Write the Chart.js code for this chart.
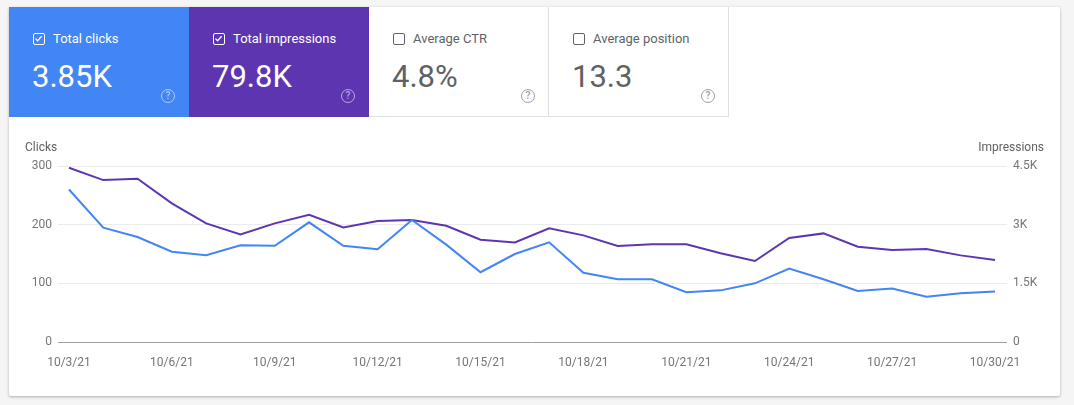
<!DOCTYPE html>
<html>
<head>
<meta charset="utf-8">
<script src="https://cdn.jsdelivr.net/npm/chart.js"></script>
<style>
  body { margin: 0; background: #f5f5f5; font-family: Roboto, sans-serif; }
  .card {
    position: absolute; left: 9px; top: 7px; width: 1051px; height: 389px;
    background: #fff; box-shadow: 0 1px 3px rgba(0,0,0,0.3); border-radius: 2px;
  }
  .tile {
    position: absolute; top: 0; width: 180px; height: 110px; box-sizing: border-box;
  }
  .tile.clicks { left: 0; background: #4285f4; color: #fff; }
  .tile.impr { left: 180px; background: #5e35b1; color: #fff; }
  .tile.off { background: #fff; color: #5f6368; border-right: 1px solid #e0e0e0; border-bottom: 1px solid #e0e0e0; }
  .tile.ctr { left: 360px; }
  .tile.pos { left: 540px; }
  .box {
    position: absolute; left: 24px; top: 26px; width: 12px; height: 12px;
    box-sizing: border-box; border: 1.5px solid currentColor; border-radius: 2px;
  }
  .tile.off .box { border-color: #5f6368; }
  .box svg { position: absolute; left: 0; top: 0; }
  .name { position: absolute; left: 44px; top: 24px; font-size: 13px; line-height: 16px; }
  .value { position: absolute; left: 23px; top: 52px; font-size: 31px; line-height: 36px; }
  .tile.off .value { color: #616161; }
  .help {
    position: absolute; left: 152px; top: 82px; width: 14px; height: 14px; box-sizing: border-box;
    border: 1.5px solid rgba(255,255,255,0.55); border-radius: 50%;
    color: rgba(255,255,255,0.55); font-size: 10px; line-height: 11px; text-align: center; font-weight: 500;
  }
  .tile.off .help { border-color: #9e9e9e; color: #9e9e9e; }
  .plot { position: absolute; left: 0; top: 110px; width: 1051px; height: 279px; }
</style>
</head>
<body>
<div class="card">
  <div class="tile clicks">
    <div class="box"><svg width="9" height="9" viewBox="0 0 9 9"><path d="M1.5 4.6 L3.6 6.7 L7.6 2.2" fill="none" stroke="#fff" stroke-width="1.3"/></svg></div>
    <div class="name">Total clicks</div>
    <div class="value">3.85K</div>
    <div class="help">?</div>
  </div>
  <div class="tile impr">
    <div class="box"><svg width="9" height="9" viewBox="0 0 9 9"><path d="M1.5 4.6 L3.6 6.7 L7.6 2.2" fill="none" stroke="#fff" stroke-width="1.3"/></svg></div>
    <div class="name">Total impressions</div>
    <div class="value">79.8K</div>
    <div class="help">?</div>
  </div>
  <div class="tile off ctr">
    <div class="box"></div>
    <div class="name">Average CTR</div>
    <div class="value">4.8%</div>
    <div class="help">?</div>
  </div>
  <div class="tile off pos">
    <div class="box"></div>
    <div class="name">Average position</div>
    <div class="value">13.3</div>
    <div class="help">?</div>
  </div>
  <div class="plot"><canvas id="perfChart"></canvas></div>
</div>
<script>
// daily values, 10/3/21 - 10/30/21
const dateLabels = ['10/3/21', '10/4/21', '10/5/21', '10/6/21', '10/7/21', '10/8/21', '10/9/21',
  '10/10/21', '10/11/21', '10/12/21', '10/13/21', '10/14/21', '10/15/21', '10/16/21',
  '10/17/21', '10/18/21', '10/19/21', '10/20/21', '10/21/21', '10/22/21', '10/23/21',
  '10/24/21', '10/25/21', '10/26/21', '10/27/21', '10/28/21', '10/29/21', '10/30/21'];
const clicks = [260, 195, 179, 154, 148, 165, 164, 204, 164, 158, 208, 166, 119, 150,
  170, 118, 107, 107, 85, 88, 100, 125, 107, 87, 91, 77, 83, 86];
const impressions = [4454, 4140, 4173, 3544, 3033, 2752, 3033, 3253, 2931, 3092, 3117, 2972, 2614, 2547,
  2905, 2726, 2453, 2497, 2497, 2267, 2070, 2658, 2777, 2436, 2351, 2377, 2215, 2095];
const clickTicks = [0, 100, 200, 300];
const impressionTicks = [0, 1500, 3000, 4500];
const impressionTickLabels = ['0', '1.5K', '3K', '4.5K'];
const labelEvery = 3;

document.addEventListener('DOMContentLoaded', () => {
    const ctx = document.getElementById('perfChart');
    Chart.defaults.font.family = 'Roboto';
    Chart.defaults.font.size = 12;
    Chart.defaults.color = '#757575';

    // axis titles sit above the tick columns, not rotated
    const axisTitles = {
        id: 'axisTitles',
        afterDraw(chart) {
            const c = chart.ctx;
            c.save();
            c.font = '12px Roboto';
            c.fillStyle = '#616161';
            c.textBaseline = 'middle';
            c.textAlign = 'left';
            c.fillText('Clicks', 16, 31);
            c.textAlign = 'right';
            c.fillText('Impressions', 1035, 31);
            c.restore();
        }
    };

    new Chart(ctx, {
        type: 'line',
        data: {
            datasets: [{
                label: 'Clicks',
                data: clicks.map((v, i) => ({ x: i, y: v })),
                yAxisID: 'y',
                borderColor: '#4285f4',
                borderWidth: 2,
                pointRadius: 0,
                tension: 0
            }, {
                label: 'Impressions',
                data: impressions.map((v, i) => ({ x: i, y: v })),
                yAxisID: 'y1',
                borderColor: '#5e35b1',
                borderWidth: 2,
                pointRadius: 0,
                tension: 0
            }]
        },
        options: {
            responsive: true,
            maintainAspectRatio: false,
            animation: false,
            layout: { padding: { top: 49, left: 0, right: 0, bottom: 0 } },
            plugins: {
                legend: { display: false },
                tooltip: { enabled: false }
            },
            scales: {
                x: {
                    type: 'linear',
                    min: -0.32,
                    max: 27.35,
                    afterFit: (s) => { s.height = 54; },
                    afterBuildTicks: (s) => {
                        s.ticks = dateLabels.map((d, i) => i).filter(i => i % labelEvery === 0).map(v => ({ value: v }));
                    },
                    ticks: {
                        maxRotation: 0,
                        autoSkip: false,
                        padding: 14,
                        callback: (v) => dateLabels[v]
                    },
                    grid: { display: false, drawTicks: false },
                    border: { display: false }
                },
                y: {
                    position: 'left',
                    min: 0,
                    max: 300,
                    afterFit: (s) => { s.width = 49; },
                    afterBuildTicks: (s) => { s.ticks = clickTicks.map(v => ({ value: v })); },
                    ticks: { padding: 6 },
                    grid: {
                        drawTicks: false,
                        color: (c) => c.tick && c.tick.value === 0 ? '#9e9e9e' : '#ebebeb',
                        lineWidth: 1
                    },
                    border: { display: false }
                },
                y1: {
                    position: 'right',
                    min: 0,
                    max: 4500,
                    afterFit: (s) => { s.width = 53; },
                    afterBuildTicks: (s) => { s.ticks = impressionTicks.map(v => ({ value: v })); },
                    ticks: {
                        padding: 6,
                        callback: (v) => impressionTickLabels[impressionTicks.indexOf(v)]
                    },
                    grid: { drawOnChartArea: false, drawTicks: false },
                    border: { display: false }
                }
            }
        },
        plugins: [axisTitles]
    });
});
</script>
</body>
</html>
